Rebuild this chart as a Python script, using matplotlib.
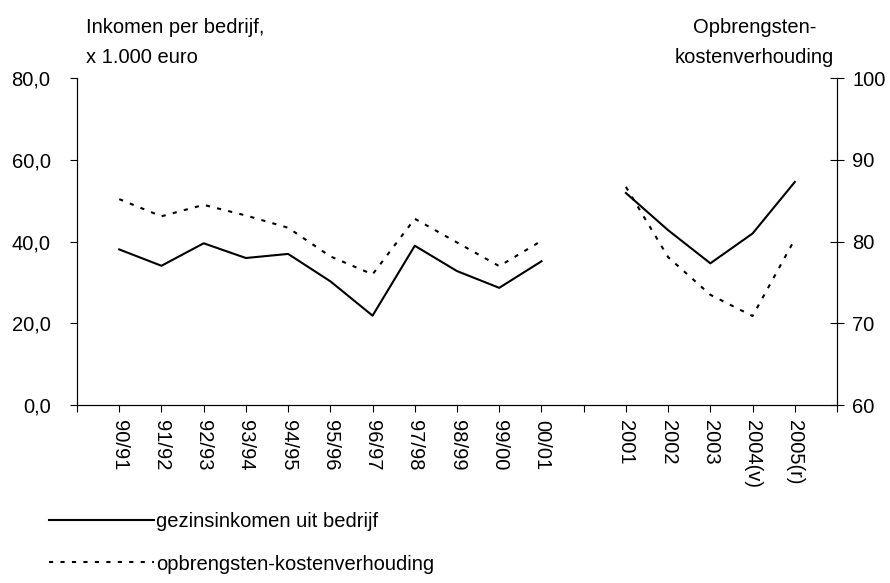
import matplotlib.pyplot as plt
import numpy as np

plt.rcParams['font.family'] = ['Liberation Sans', 'DejaVu Sans']
plt.rcParams['font.size'] = 14.5

# --- Data ---
categories = ['90/91', '91/92', '92/93', '93/94', '94/95', '95/96', '96/97',
              '97/98', '98/99', '99/00', '00/01', '',
              '2001', '2002', '2003', '2004(v)', '2005(r)']
# gezinsinkomen uit bedrijf (x 1.000 euro), None = gap
inkomen = [38.1, 34.1, 39.6, 36.0, 37.0, 30.3, 21.9, 39.0, 32.8, 28.7, 35.2, None,
           51.9, 42.8, 34.7, 42.0, 54.6]
# opbrengsten-kostenverhouding
verhouding = [85.2, 83.1, 84.5, 83.2, 81.7, 78.2, 76.0, 82.8, 79.9, 77.0, 80.1, None,
              86.7, 78.1, 73.5, 70.9, 80.3]

x = np.arange(len(categories))
inkomen_arr = np.array([np.nan if v is None else v for v in inkomen])
verhouding_arr = np.array([np.nan if v is None else v for v in verhouding])

# --- Figure ---
fig = plt.figure(figsize=(8.9, 5.83), dpi=100)
ax = fig.add_axes([0.0865, 0.305, 0.854, 0.561])
ax2 = ax.twinx()

l1, = ax.plot(x, inkomen_arr, color='black', lw=1.5, label='gezinsinkomen uit bedrijf')
l2, = ax2.plot(x, verhouding_arr, color='black', lw=1.5, dashes=(2, 3.5),
               label='opbrengsten-kostenverhouding')

ax.set_xlim(-1, len(categories))
ax.set_ylim(0, 80)
ax2.set_ylim(60, 100)

ax.set_yticks([0, 20, 40, 60, 80])
ax.set_yticklabels([f'{v:.1f}'.replace('.', ',') for v in [0, 20, 40, 60, 80]])
ax2.set_yticks([60, 70, 80, 90, 100])

ax.set_xticks(np.arange(-1, len(categories) + 1))
ax.set_xticklabels([''] + categories + [''], rotation=-90, va='top', ha='center')

ax.tick_params(axis='x', direction='out', length=5, width=0.8, pad=6)
ax.tick_params(axis='y', direction='out', length=5, width=0.8, pad=14)
ax2.tick_params(axis='y', direction='inout', length=10, width=0.8, pad=6)

for a in (ax, ax2):
    a.spines['top'].set_visible(False)
    for s in ('left', 'right', 'bottom'):
        a.spines[s].set_linewidth(0.8)

# axis titles
fig.text(0.097, 0.953, 'Inkomen per bedrijf,', ha='left', va='center')
fig.text(0.097, 0.901, 'x 1.000 euro', ha='left', va='center')
fig.text(0.848, 0.953, 'Opbrengsten-', ha='center', va='center')
fig.text(0.848, 0.901, 'kostenverhouding', ha='center', va='center')

# legend
fig.legend(handles=[l1, l2], loc='upper left', bbox_to_anchor=(0.046, 0.135),
           frameon=False, handlelength=5.2, handletextpad=0.1, labelspacing=1.15,
           borderaxespad=0)

fig.savefig('out.png', dpi=100)
